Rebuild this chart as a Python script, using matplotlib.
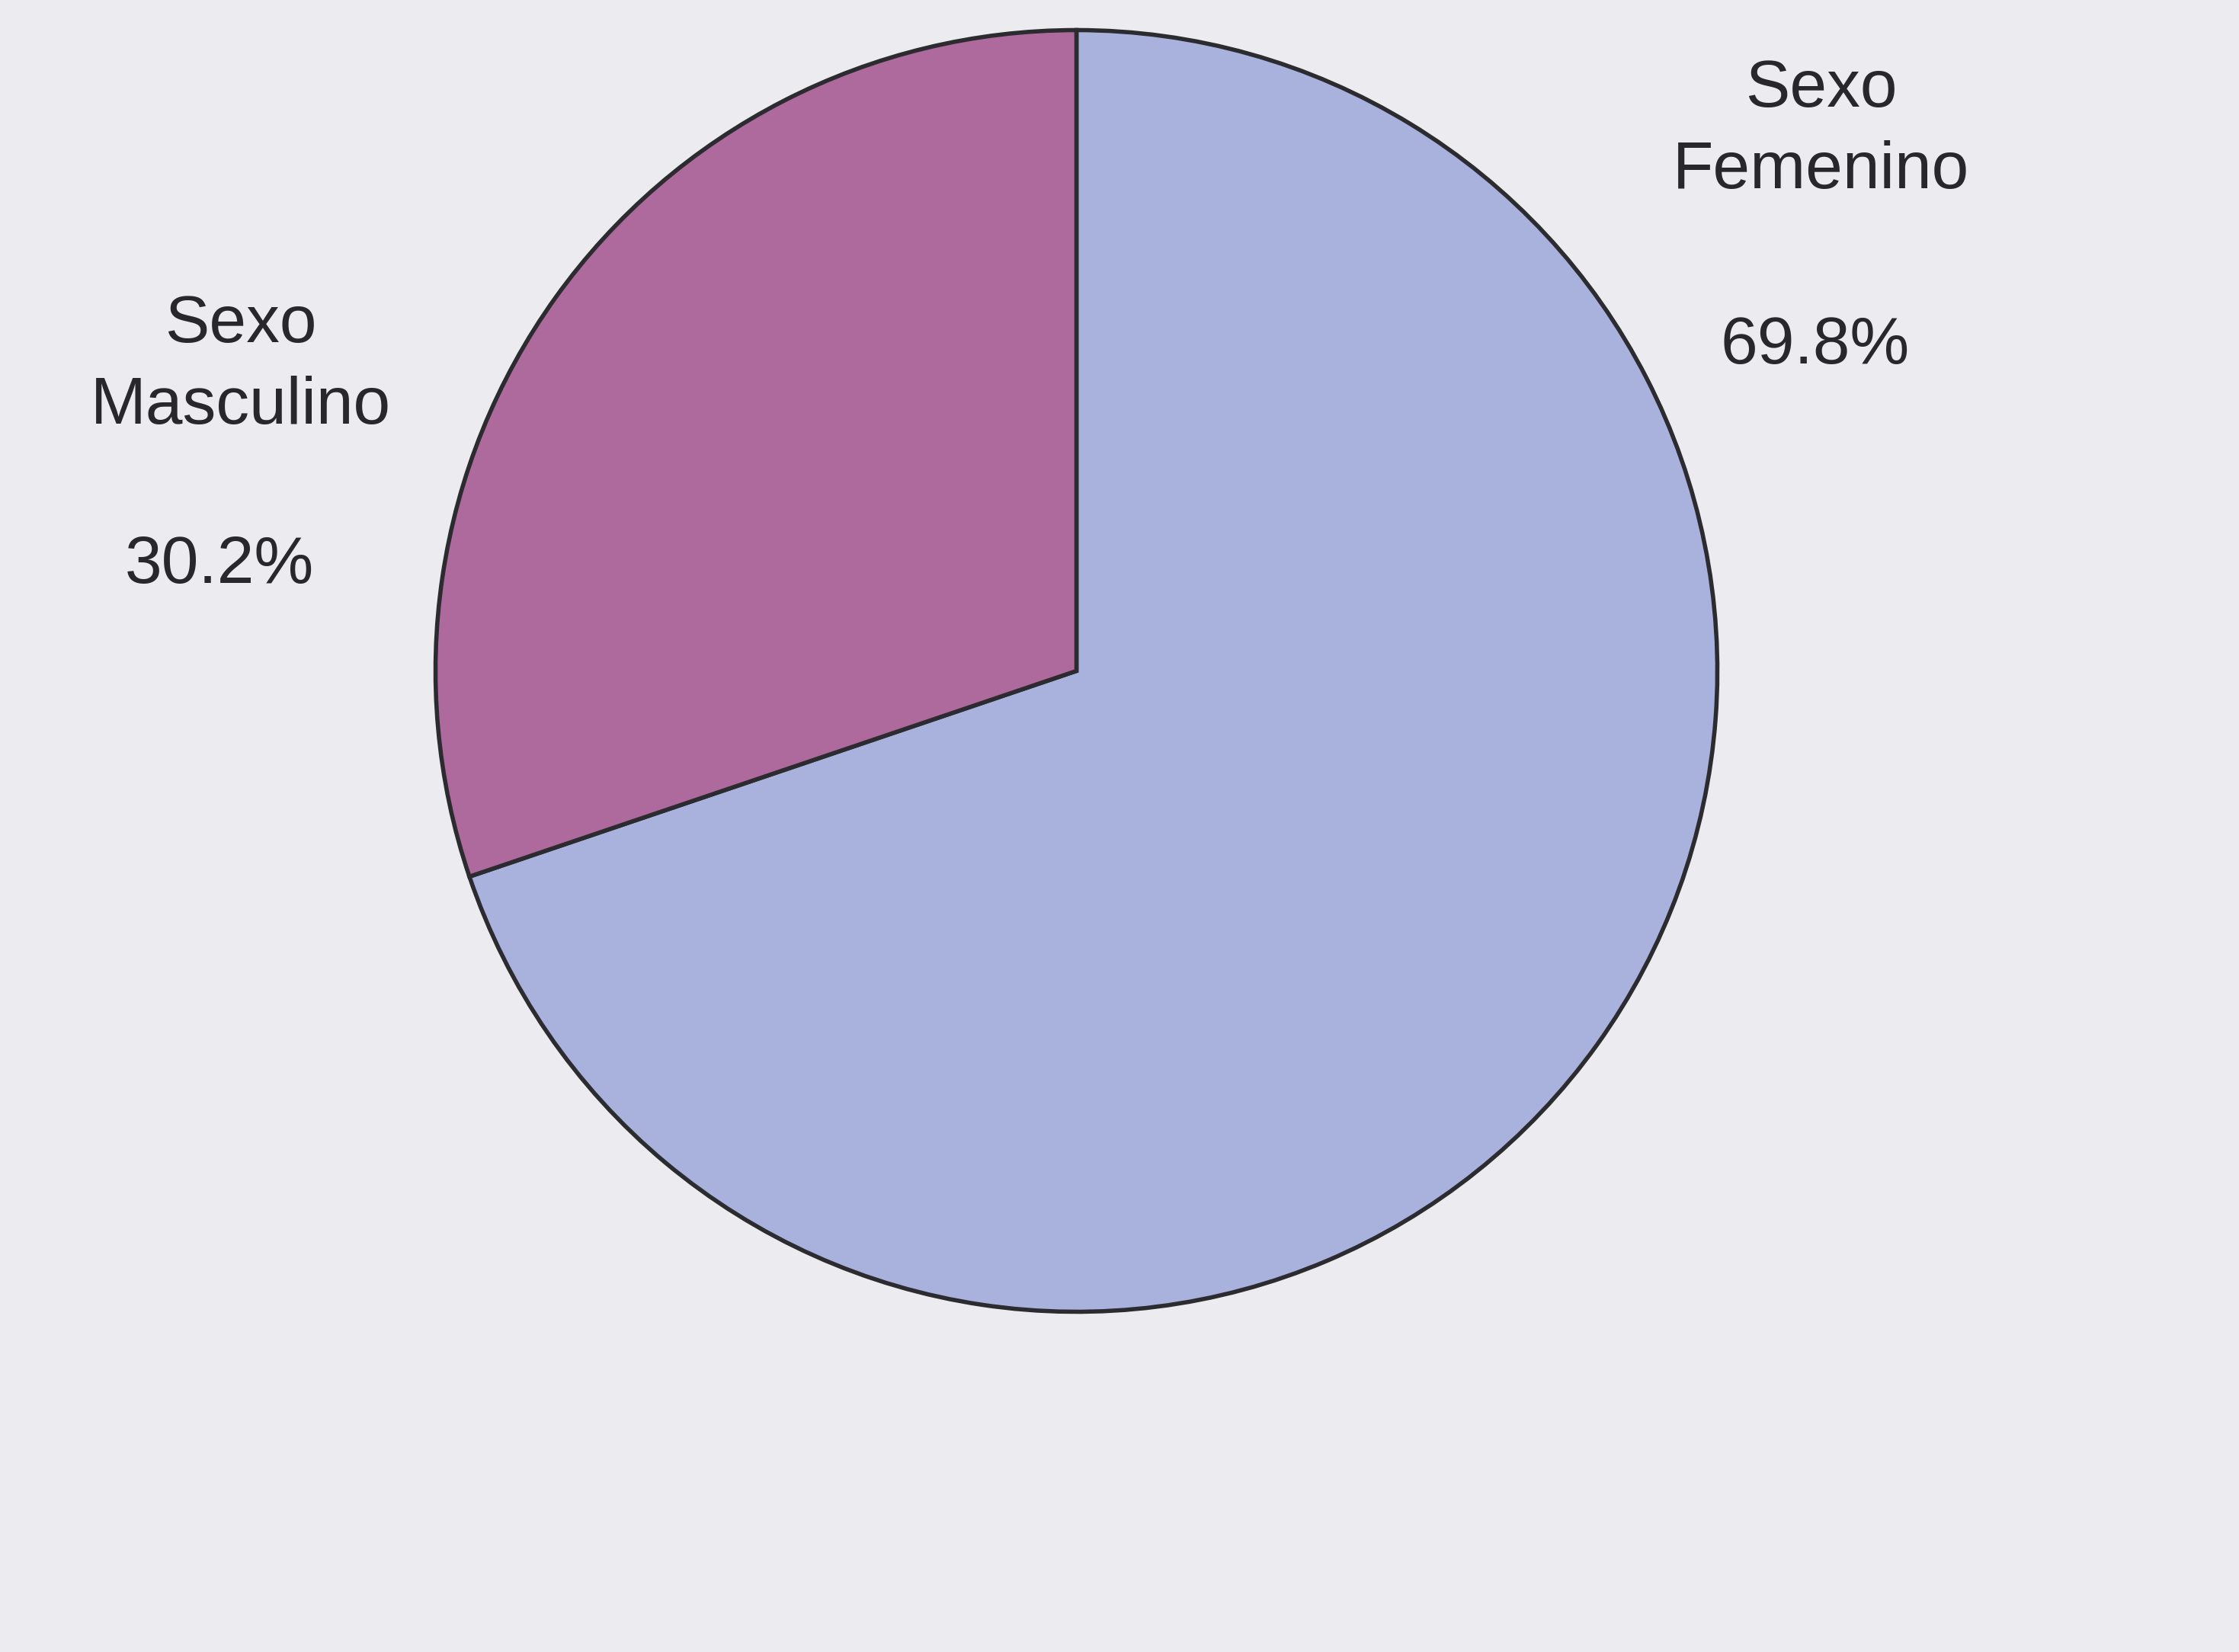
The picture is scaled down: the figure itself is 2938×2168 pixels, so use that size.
import matplotlib as mpl
mpl.use('Agg')
import matplotlib.pyplot as plt

# data
labels = ['Sexo\nFemenino', 'Sexo\nMasculino']
values = [69.8, 30.2]
pct_labels = ['69.8%', '30.2%']
colors = ['#a8b2dd', '#ae6a9c']

W, H = 2938, 2168
fig = plt.figure(figsize=(W / 100, H / 100), dpi=100)
fig.patch.set_facecolor('#ebebf0')
ax = fig.add_axes([0, 0, 1, 1])

wedges, _ = ax.pie(values, colors=colors, startangle=90, counterclock=False,
                   center=(1412.5, 880.5), radius=841, frame=True,
                   wedgeprops=dict(edgecolor='#2b2b30', linewidth=4.0))
ax.set_xlim(0, W)
ax.set_ylim(H, 0)
ax.set_aspect('equal')
ax.axis('off')
# ylim is flipped, so mirror the wedges back to match the page orientation
for w in wedges:
    t1, t2 = w.theta1, w.theta2
    w.set_theta1(-t2)
    w.set_theta2(-t1)

txt = dict(fontsize=63, family='Liberation Sans', color='#28282c',
           ha='center', va='center', linespacing=1.40)
ax.text(2390, 171, labels[0], **txt)
ax.text(2382, 455, pct_labels[0], **txt)
ax.text(316, 480, labels[1], **txt)
ax.text(288, 742, pct_labels[1], **txt)

fig.savefig('out.png', dpi=100, facecolor=fig.get_facecolor())
